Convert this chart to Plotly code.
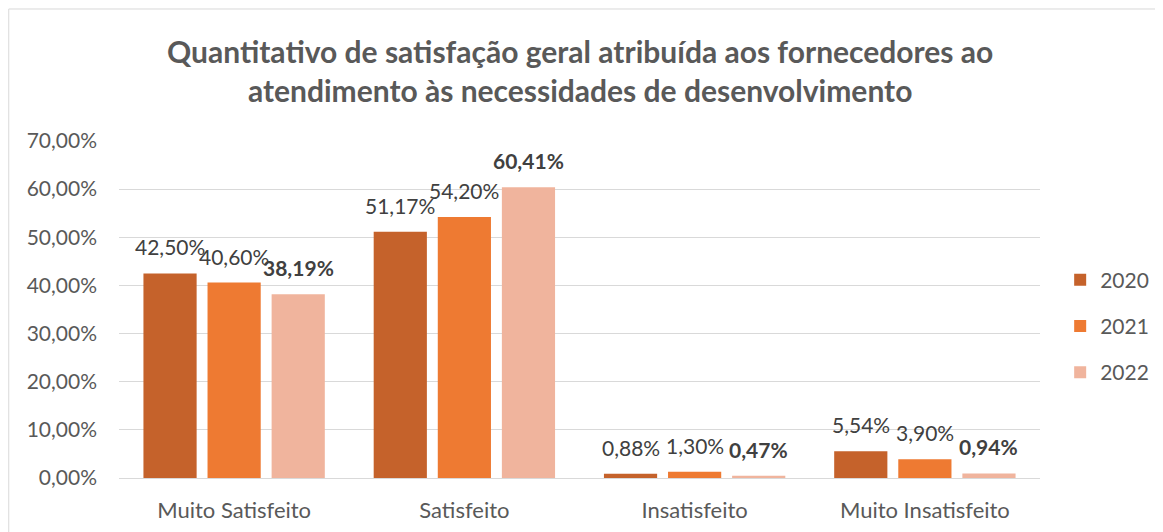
import plotly.graph_objects as go

categories = ["Muito Satisfeito", "Satisfeito", "Insatisfeito", "Muito Insatisfeito"]
years = ["2020", "2021", "2022"]
v2020 = [42.50, 51.17, 0.88, 5.54]
v2021 = [40.60, 54.20, 1.30, 3.90]
v2022 = [38.19, 60.41, 0.47, 0.94]
y_ticks = [0, 10, 20, 30, 40, 50, 60, 70]
title_text = ("<b>Quantitativo de satisfação geral atribuída aos fornecedores ao<br>"
              "atendimento às necessidades de desenvolvimento</b>")

colors = ["#C5622B", "#EE7A32", "#F0B49D"]
series = [v2020, v2021, v2022]
FONT = "Lato, 'Open Sans', sans-serif"

fig = go.Figure()
for i, (yr, vals) in enumerate(zip(years, series)):
    fig.add_trace(go.Bar(
        x=categories, y=vals, name=yr, legendgroup=yr,
        marker=dict(color=colors[i], line=dict(width=0)),
    ))

annotations = []
SLOT = 64
for i, (yr, vals) in enumerate(zip(years, series)):
    for cat, v in zip(categories, vals):
        txt = f"{v:.2f}%".replace(".", ",")
        if yr == "2022":
            txt = f"<b>{txt}</b>"
        annotations.append(dict(
            x=cat, y=v, xref="x", yref="y", text=txt, showarrow=False,
            xanchor="center", yanchor="bottom", xshift=(i - 1) * SLOT, yshift=12,
            font=dict(size=21, color="#404040", family=FONT),
        ))

annotations.append(dict(
    x=0.5, y=1.3265, xref="paper", yref="paper", text=title_text, showarrow=False,
    xanchor="center", yanchor="top", align="center",
    font=dict(size=30, color="#595959", family=FONT),
))

fig.update_layout(
    width=1155, height=524,
    barmode="group", bargap=0.165, bargroupgap=0.17,
    paper_bgcolor="white", plot_bgcolor="white",
    margin=dict(l=111, r=123, t=133, b=54, autoexpand=False),
    font=dict(family=FONT, color="#595959", size=20),
    legend=dict(
        x=1.0219, xanchor="left", y=0.451, yanchor="middle",
        font=dict(size=21, color="#595959"),
        itemwidth=30, tracegroupgap=16,
    ),
    showlegend=True,
    annotations=annotations,
    yaxis=dict(
        range=[0, 70], tickvals=y_ticks, ticktext=[f"{t:.2f}%".replace(".", ",") for t in y_ticks],
        showgrid=True, gridcolor="#D9D9D9", gridwidth=1,
        zeroline=False, showline=False, ticks="", ticklen=0,
        ticklabelstandoff=21, automargin=False,
        tickfont=dict(size=21, color="#595959"),
    ),
    xaxis=dict(
        showline=True, linecolor="#D9D9D9", linewidth=1, ticks="",
        ticklabelstandoff=13, automargin=False,
        tickfont=dict(size=22, color="#595959"),
    ),
    shapes=[dict(
        type="rect", xref="paper", yref="paper",
        x0=-0.1197, x1=1.128, y0=-0.3, y1=1.3917,
        line=dict(color="#D9D9D9", width=1), fillcolor="rgba(0,0,0,0)",
    )],
)

fig.write_html("out.html")
